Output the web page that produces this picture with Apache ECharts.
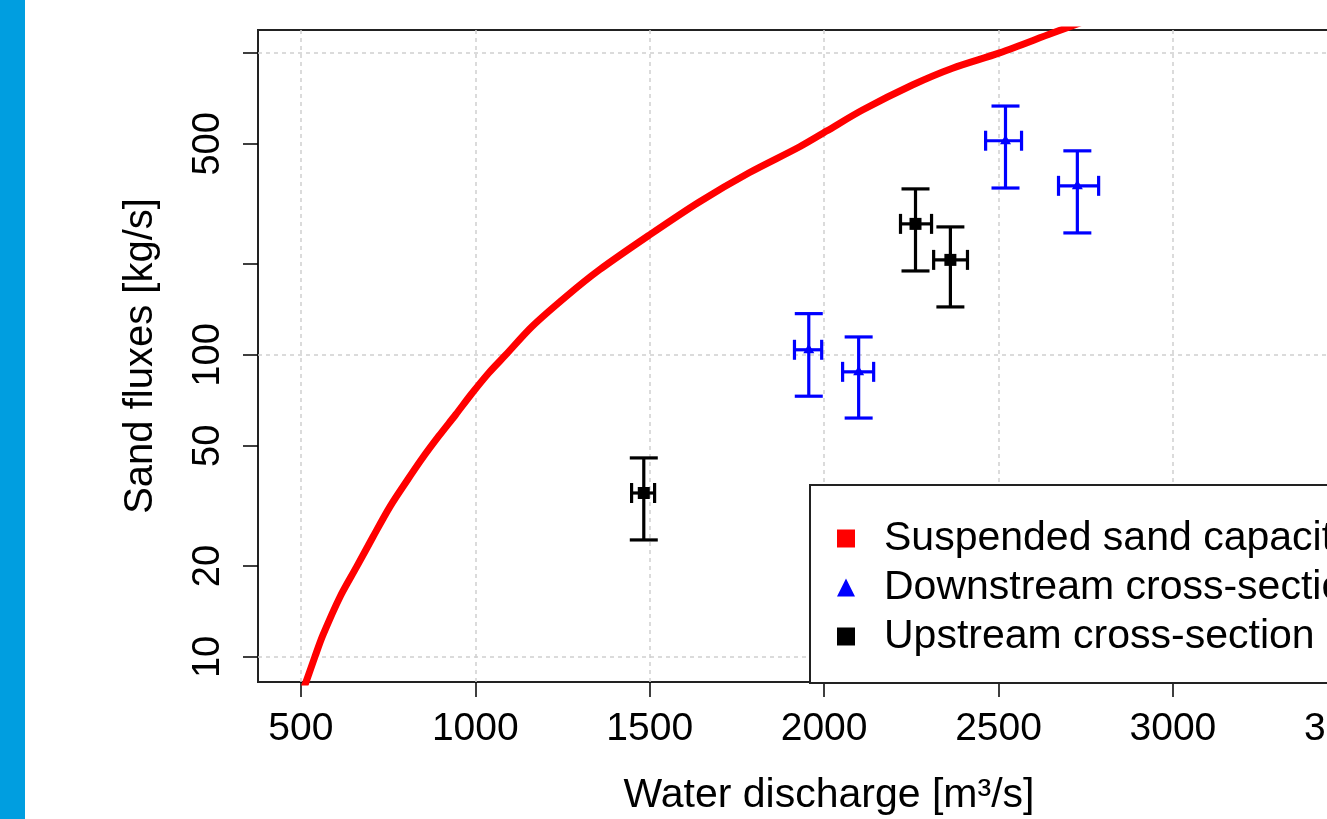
<!DOCTYPE html>
<html>
<head>
<meta charset="utf-8">
<script src="https://cdn.jsdelivr.net/npm/echarts@6/dist/echarts.min.js"></script>
<style>
html,body{margin:0;padding:0;overflow:hidden;background:#fff;}
#c{width:1460px;height:819px;}
</style>
</head>
<body>
<div id="c"></div>
<script>
// ---- data ----
const xTicks = [500, 1000, 1500, 2000, 2500, 3000, 3500];
const yTicks = [10, 20, 50, 100, 200, 500, 1000];
const yLabels = [10, 20, 50, 100, 500];
const yGrid = [10, 100, 1000];

// Suspended sand capacity curve
const capQ = [500, 520, 540, 563, 612, 660, 706, 755, 804, 847, 895, 944, 990, 1039, 1087, 1162, 1260, 1355, 1498, 1642, 1785, 1930, 2007, 2110, 2253, 2368, 2503, 2655, 2760];
const capS = [7.4, 8.6, 10, 11.8, 15.8, 19.9, 24.9, 31.4, 38.3, 45.3, 53.8, 63.5, 74.5, 87.3, 100, 124, 156, 191, 249, 321, 401, 489, 551, 647, 783, 890, 1000, 1164, 1290];

// Downstream cross-section (blue)
const downQ   = [1956, 2099, 2520, 2726];
const downQlo = [1915, 2053, 2463, 2672];
const downQhi = [1993, 2142, 2566, 2787];
const downS   = [104, 87.9, 512, 363];
const downSlo = [73, 61.8, 357, 253.5];
const downShi = [137, 114.7, 667, 474];

// Upstream cross-section (black)
const upQ   = [1483, 2262, 2362];
const upQlo = [1448, 2219, 2314];
const upQhi = [1514, 2308, 2411];
const upS   = [34.9, 271.6, 206.4];
const upSlo = [24.4, 189.7, 144.2];
const upShi = [45.6, 354.6, 265.4];

const NAMES = ['Suspended sand capacity', 'Downstream cross-section', 'Upstream cross-section'];
const FONT = '"Liberation Sans", Arial, sans-serif';

function build(q, qlo, qhi, s, slo, shi) {
  return q.map((v, i) => [v, s[i], qlo[i], qhi[i], slo[i], shi[i]]);
}

function makeRender(color, shape) {
  return function (params, api) {
    const q = api.value(0), s = api.value(1);
    const ql = api.value(2), qh = api.value(3), sl = api.value(4), sh = api.value(5);
    const c = api.coord([q, s]);
    const top = api.coord([q, sh]);
    const bot = api.coord([q, sl]);
    const lft = api.coord([ql, s]);
    const rgt = api.coord([qh, s]);
    const st = { stroke: color, lineWidth: 3.2, fill: null };
    const cw = 14, ch = 10;
    const kids = [
      { type: 'line', shape: { x1: c[0], y1: top[1], x2: c[0], y2: bot[1] }, style: st },
      { type: 'line', shape: { x1: c[0] - cw, y1: top[1], x2: c[0] + cw, y2: top[1] }, style: st },
      { type: 'line', shape: { x1: c[0] - cw, y1: bot[1], x2: c[0] + cw, y2: bot[1] }, style: st },
      { type: 'line', shape: { x1: lft[0], y1: c[1], x2: rgt[0], y2: c[1] }, style: st },
      { type: 'line', shape: { x1: lft[0], y1: c[1] - ch, x2: lft[0], y2: c[1] + ch }, style: st },
      { type: 'line', shape: { x1: rgt[0], y1: c[1] - ch, x2: rgt[0], y2: c[1] + ch }, style: st }
    ];
    if (shape === 'square') {
      kids.push({ type: 'rect', shape: { x: c[0] - 6, y: c[1] - 6, width: 12, height: 12 }, style: { fill: color } });
    } else {
      kids.push({ type: 'polygon', shape: { points: [[c[0], c[1] - 6], [c[0] + 5.5, c[1] + 3.5], [c[0] - 5.5, c[1] + 3.5]] }, style: { fill: color } });
    }
    return { type: 'group', children: kids };
  };
}

const chart = echarts.init(document.getElementById('c'), null, { renderer: 'canvas' });

const gridMarks = yGrid.map(v => ({ yAxis: v })).concat(xTicks.map(v => ({ xAxis: v })));

chart.setOption({
  animation: false,
  backgroundColor: '#fff',
  textStyle: { fontFamily: FONT },
  graphic: [
    { type: 'rect', left: 0, top: 0, shape: { width: 25, height: 819 }, style: { fill: '#009ee0' }, z: 100 }
  ],
  grid: {
    left: 258, top: 30, width: 1142, bottom: 137,
    outerBoundsMode: 'none', containLabel: false,
    show: true, borderColor: '#222', borderWidth: 2, backgroundColor: 'transparent'
  },
  legend: {
    data: [
      { name: NAMES[0], icon: 'rect' },
      { name: NAMES[1], icon: 'triangle' },
      { name: NAMES[2], icon: 'rect' }
    ],
    orient: 'vertical',
    left: 810, top: 485,
    padding: [33, 40, 26, 27],
    itemWidth: 18, itemHeight: 18, itemGap: 8,
    borderColor: '#222', borderWidth: 2, backgroundColor: '#fff',
    selectedMode: false,
    textStyle: { fontFamily: FONT, fontSize: 41, lineHeight: 40, color: '#000', padding: [0, 0, 0, 24] },
    z: 20
  },
  xAxis: {
    type: 'value', min: 377, max: 3651,
    name: 'Water discharge [m³/s]', nameLocation: 'middle', nameGap: 93,
    nameTextStyle: { fontFamily: FONT, fontSize: 41, color: '#000' },
    axisLine: { show: false },
    axisTick: { show: true, customValues: xTicks, length: 15, inside: false, lineStyle: { color: '#000', width: 1.5 } },
    axisLabel: { show: true, customValues: xTicks, fontFamily: FONT, fontSize: 39, color: '#000', margin: 28,
      formatter: v => String(v) },
    splitLine: { show: false }
  },
  yAxis: {
    type: 'log', logBase: 10, min: 8.26, max: 1191,
    name: 'Sand fluxes [kg/s]', nameLocation: 'middle', nameGap: 97, nameRotate: 90,
    nameTextStyle: { fontFamily: FONT, fontSize: 40, color: '#000' },
    axisLine: { show: false },
    axisTick: { show: true, customValues: yTicks, length: 15, inside: false, lineStyle: { color: '#000', width: 1.5 } },
    axisLabel: { show: true, customValues: yLabels, rotate: 90, fontFamily: FONT, fontSize: 38, color: '#000', margin: 30,
      formatter: v => String(Math.round(v)) },
    splitLine: { show: false },
    minorTick: { show: false }
  },
  series: [
    {
      name: 'grid', type: 'line', data: [], silent: true, z: 1,
      markLine: {
        silent: true, symbol: ['none', 'none'], animation: false,
        label: { show: false },
        lineStyle: { color: '#cfcfcf', width: 1.5, type: [4, 4] },
        data: gridMarks
      }
    },
    {
      name: NAMES[0], type: 'line', showSymbol: false, smooth: 0.3, z: 5,
      data: capQ.map((q, i) => [q, capS[i]]),
      lineStyle: { color: '#ff0000', width: 7, join: 'round', cap: 'round' },
      itemStyle: { color: '#ff0000' },
      clip: true
    },
    {
      name: NAMES[1], type: 'custom', z: 6,
      itemStyle: { color: '#0000ff' },
      encode: { x: 0, y: 1 },
      renderItem: makeRender('#0000ff', 'triangle'),
      data: build(downQ, downQlo, downQhi, downS, downSlo, downShi)
    },
    {
      name: NAMES[2], type: 'custom', z: 6,
      itemStyle: { color: '#000000' },
      encode: { x: 0, y: 1 },
      renderItem: makeRender('#000000', 'square'),
      data: build(upQ, upQlo, upQhi, upS, upSlo, upShi)
    }
  ]
});
</script>
</body>
</html>
